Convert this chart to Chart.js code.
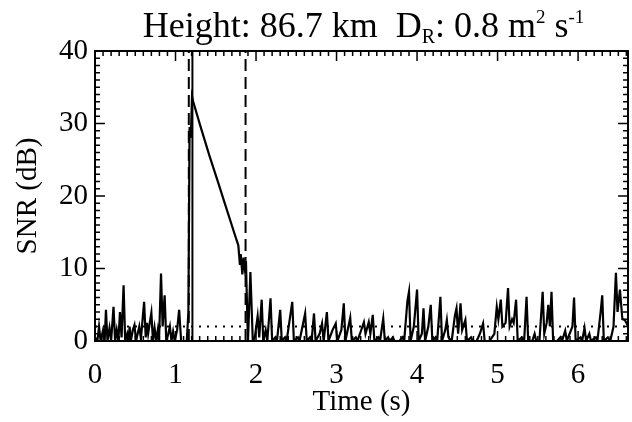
<!DOCTYPE html>
<html><head><meta charset="utf-8">
<script src="https://cdn.jsdelivr.net/npm/chart.js@4/dist/chart.umd.min.js"></script>
<style>html,body{margin:0;padding:0;background:#fff}#c{display:block}</style>
</head><body>
<canvas id="c" width="632" height="422"></canvas>
<script>
// ---- data ----
const timeS = [0.00,0.03,0.05,0.07,0.10,0.12,0.136,0.155,0.18,0.20,0.23,0.25,0.27,0.29,0.31,0.33,0.355,0.375,0.40,0.415,0.43,0.445,0.47,0.49,0.51,0.53,0.55,0.57,0.61,0.63,0.645,0.66,0.68,0.70,0.72,0.74,0.76,0.78,0.795,0.82,0.84,0.865,0.885,0.91,0.93,0.95,0.97,0.99,1.02,1.045,1.07,1.10,1.14,1.16,1.175,1.19,1.205,1.22,1.31,1.42,1.52,1.62,1.73,1.78,1.80,1.81,1.83,1.845,1.86,1.875,1.89,1.90,1.93,1.96,1.985,2.02,2.04,2.07,2.09,2.12,2.14,2.18,2.20,2.24,2.26,2.30,2.32,2.36,2.38,2.45,2.47,2.52,2.54,2.61,2.63,2.67,2.69,2.72,2.74,2.79,2.82,2.84,2.88,2.90,2.95,2.99,3.01,3.06,3.09,3.11,3.17,3.19,3.24,3.26,3.34,3.36,3.40,3.42,3.45,3.47,3.52,3.54,3.58,3.60,3.64,3.66,3.70,3.72,3.78,3.82,3.84,3.88,3.90,3.92,3.96,4.00,4.02,4.06,4.08,4.10,4.14,4.17,4.19,4.23,4.25,4.29,4.31,4.35,4.37,4.39,4.43,4.47,4.49,4.51,4.54,4.56,4.60,4.62,4.67,4.69,4.74,4.78,4.82,4.84,4.90,4.96,4.99,5.01,5.04,5.06,5.10,5.13,5.15,5.18,5.20,5.23,5.25,5.30,5.33,5.36,5.38,5.43,5.46,5.48,5.52,5.56,5.58,5.61,5.63,5.65,5.67,5.69,5.74,5.78,5.80,5.84,5.86,5.93,5.95,5.97,6.03,6.05,6.08,6.10,6.14,6.16,6.22,6.24,6.28,6.30,6.32,6.37,6.40,6.44,6.47,6.49,6.52,6.55,6.58,6.60,6.62];
const snrDb = [0.5,0,2.0,0,1.5,0,4.3,0,1.8,0,4.7,0,1.5,0,4.0,0.5,7.7,0,1.0,0,2.0,0,1.5,2.2,0,1.0,2.0,0.3,5.4,0.5,2.5,1.0,2.5,3.9,0,1.8,0,1.5,0,9.3,2,6.3,0,1.0,2.0,0,1.3,0,1.5,4.3,0,0,0,4,29.5,28,33.7,33.0,29.6,25.6,22.2,18.7,14.9,13.2,10.5,12.0,9.2,11.5,10.0,11.0,4,0,9.5,0,0.5,3.4,0.5,5.7,0,1.5,0,5.9,0,0.5,0,4.3,0,0.5,0,5.4,0,0.5,0,3.8,0,0.5,0,3.8,0,1.0,2.4,0,4.0,0,1.5,2.4,0,1.5,5.2,0,3.2,0,0.5,0,2.6,1.0,2.6,1.0,3.6,0,0.5,0,3.1,0,0.5,0,0.5,0,0,0.5,0,5.5,6.8,0,2,7.1,0,1,4.5,0,2,5.0,0,0.5,0,6.1,0,1.5,2.9,0.5,0,3.5,4.5,1,5.2,1.5,2.9,0,0.5,0,0,1,2.4,0,0,1,4.7,3,5.7,2,2.5,7.3,2,3,2.5,5.7,0,0.5,0,6.1,0,0,1.0,0,0,6.8,1,2.5,5.0,2,6.8,0,0,0.5,0,1.4,0,2,6.0,0,0.5,0,1.8,0,1,0,0.5,0,4,6.3,0,0.5,0,2,9.4,4,7.1,3,2.9,2.5,2.0];
const thresholdDb = 2.0;          // dotted horizontal line
const dashedMarksS = [1.165, 1.87]; // dashed vertical lines
const solidMarkS = 1.21;          // solid vertical line
const xTickValues = [0,1,2,3,4,5,6];
const yTickValues = [0,10,20,30,40];
const xRange = [0, 6.62];
const yRange = [0, 40];

const FONT = "'Liberation Serif', 'DejaVu Serif', serif";
const pts = timeS.map((t,i)=>({x:t,y:snrDb[i]}));

const boxTicks = {
  id:'boxTicks',
  afterDraw(chart){
    const {ctx, chartArea:a, scales:{x,y}} = chart;
    ctx.save();
    ctx.strokeStyle='#000';
    ctx.lineWidth=2;
    ctx.strokeRect(a.left, a.top, a.right-a.left, a.bottom-a.top);
    ctx.lineWidth=1.5;
    ctx.beginPath();
    for(let k=0;k<=Math.round(xRange[1]*10);k++){
      const v=k/10, px=x.getPixelForValue(v);
      const L=(k%10===0)?10:5;
      ctx.moveTo(px,a.bottom); ctx.lineTo(px,a.bottom-L);
      ctx.moveTo(px,a.top); ctx.lineTo(px,a.top+L);
    }
    for(let k=0;k<=40;k++){
      const py=y.getPixelForValue(k);
      const L=(k%10===0)?10:5;
      ctx.moveTo(a.left,py); ctx.lineTo(a.left+L,py);
      ctx.moveTo(a.right,py); ctx.lineTo(a.right-L,py);
    }
    ctx.stroke();
    // title with subscript / superscripts
    const parts=[["Height: 86.7 km  D",36,0],["R",20,6],[": 0.8 m",36,0],["2",19,-14],[" s",36,0],["-1",19,-14]];
    let w=0;
    parts.forEach(p=>{ctx.font=p[1]+"px "+FONT; w+=ctx.measureText(p[0]).width;});
    let cx=(a.left+a.right)/2 - w/2 + 2;
    const base=37;
    ctx.fillStyle='#000';
    ctx.textBaseline='alphabetic';
    parts.forEach(p=>{ctx.font=p[1]+"px "+FONT; ctx.fillText(p[0],cx,base+p[2]); cx+=ctx.measureText(p[0]).width;});
    ctx.restore();
  }
};

new Chart(document.getElementById('c'),{
  type:'line',
  data:{datasets:[
    {data:pts,borderColor:'#000',borderWidth:2.2,pointRadius:0,tension:0,fill:false},
    {data:[{x:xRange[0],y:thresholdDb},{x:xRange[1],y:thresholdDb}],borderColor:'#000',borderWidth:2,borderDash:[2,6],pointRadius:0},
    {data:[{x:dashedMarksS[0],y:yRange[0]},{x:dashedMarksS[0],y:yRange[1]}],borderColor:'#000',borderWidth:2,borderDash:[12,6],pointRadius:0},
    {data:[{x:dashedMarksS[1],y:yRange[0]},{x:dashedMarksS[1],y:yRange[1]}],borderColor:'#000',borderWidth:2,borderDash:[12,6],pointRadius:0},
    {data:[{x:solidMarkS,y:yRange[0]},{x:solidMarkS,y:yRange[1]}],borderColor:'#000',borderWidth:2,pointRadius:0}
  ]},
  options:{
    responsive:false,animation:false,
    layout:{padding:{top:51,right:4,left:0,bottom:0}},
    plugins:{legend:{display:false},tooltip:{enabled:false}},
    scales:{
      x:{type:'linear',min:xRange[0],max:xRange[1],
        afterBuildTicks:s=>{s.ticks=xTickValues.map(v=>({value:v}));},
        afterFit:s=>{s.height=81;},
        grid:{display:false,drawTicks:false},border:{display:false},
        ticks:{color:'#000',font:{family:FONT,size:29},padding:17,maxRotation:0},
        title:{display:true,text:'Time (s)',color:'#000',font:{family:FONT,size:29},padding:{top:0,bottom:2}}},
      y:{type:'linear',min:yRange[0],max:yRange[1],
        afterBuildTicks:s=>{s.ticks=yTickValues.map(v=>({value:v}));},
        afterFit:s=>{s.width=95;},
        grid:{display:false,drawTicks:false},border:{display:false},
        ticks:{color:'#000',font:{family:FONT,size:29},padding:7},
        title:{display:true,text:'SNR (dB)',color:'#000',font:{family:FONT,size:29},padding:{top:11}}}
    }
  },
  plugins:[boxTicks]
});
</script>
</body></html>
